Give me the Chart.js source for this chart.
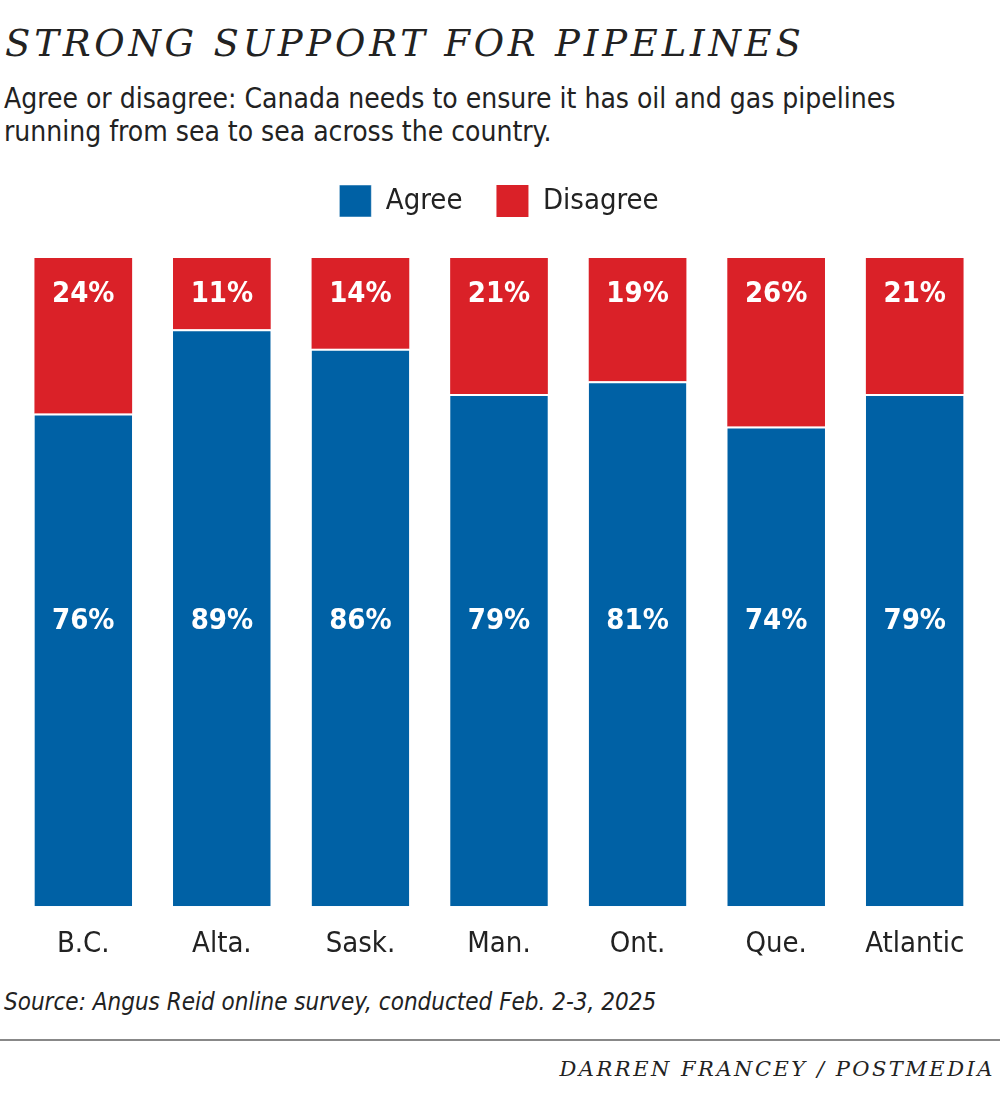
<!DOCTYPE html>
<html>
<head>
<meta charset="utf-8">
<script src="https://cdn.jsdelivr.net/npm/chart.js@4"></script>
<style>
  body { margin: 0; background: #fff; width: 1000px; height: 1111px; position: relative; overflow: hidden; }
  .title { position: absolute; left: 5px; top: 22px; font-family: "DejaVu Serif", serif; font-style: italic; font-size: 37px; letter-spacing: 3.8px; color: #222; white-space: nowrap; }
  .sub { position: absolute; left: 4px; top: 82px; font-family: "DejaVu Sans Condensed", sans-serif; font-size: 28px; line-height: 33px; color: #222; }
  .src { position: absolute; left: 4px; top: 988px; font-family: "DejaVu Sans Condensed", sans-serif; font-style: italic; font-size: 24px; color: #222; }
  .rule { position: absolute; left: 0; top: 1039px; width: 1000px; height: 2px; background: #888; }
  .credit { position: absolute; right: 5px; top: 1057px; font-family: "DejaVu Serif", serif; font-style: italic; font-size: 21px; letter-spacing: 2.5px; color: #222; }
  #wrap { position: absolute; left: 0; top: 151px; width: 1000px; height: 824px; }
</style>
</head>
<body>
<div class="title">STRONG SUPPORT FOR PIPELINES</div>
<div class="sub">Agree or disagree: Canada needs to ensure it has oil and gas pipelines<br>running from sea to sea across the country.</div>
<div id="wrap"><canvas id="myChart"></canvas></div>
<div class="src">Source: Angus Reid online survey, conducted Feb. 2-3, 2025</div>
<div class="rule"></div>
<div class="credit">DARREN FRANCEY / POSTMEDIA</div>
<script>
let regions = ["B.C.", "Alta.", "Sask.", "Man.", "Ont.", "Que.", "Atlantic"];
let agree = [76, 89, 86, 79, 81, 74, 79];
let disagree = [24, 11, 14, 21, 19, 26, 21];

let condensed = '"DejaVu Sans Condensed", sans-serif';

// labels sit at fixed heights: agree around 44 on the scale, disagree near the top
let labelPlugin = {
  id: "barLabels",
  afterDatasetsDraw(chart) {
    let ctx = chart.ctx;
    let y = chart.scales.y;
    ctx.save();
    ctx.fillStyle = "#fff";
    ctx.font = "bold 29px " + condensed;
    ctx.textAlign = "center";
    ctx.textBaseline = "middle";
    chart.getDatasetMeta(0).data.forEach((bar, i) => {
      ctx.fillText(agree[i] + "%", bar.x, y.getPixelForValue(44));
    });
    chart.getDatasetMeta(1).data.forEach((bar, i) => {
      ctx.fillText(disagree[i] + "%", bar.x, chart.chartArea.top + 36);
    });
    ctx.restore();
  },
};

// extra room under the legend
let legendGap = {
  id: "legendGap",
  beforeInit(chart) {
    let fit = chart.legend.fit;
    chart.legend.fit = function () {
      fit.bind(chart.legend)();
      this.height += 31;
    };
  },
};

let barChart = new Chart(document.getElementById("myChart"), {
  type: "bar",
  data: {
    labels: regions,
    datasets: [
      {
        label: "Agree",
        data: agree,
        backgroundColor: "#0061a5",
        borderColor: "#ffffff",
        borderWidth: { top: 2, left: 0, right: 0, bottom: 0 },
        borderSkipped: false,
        categoryPercentage: 1,
        barPercentage: 0.705,
      },
      {
        label: "Disagree",
        data: disagree,
        backgroundColor: "#da2128",
        borderWidth: 0,
        categoryPercentage: 1,
        barPercentage: 0.705,
      },
    ],
  },
  options: {
    responsive: true,
    maintainAspectRatio: false,
    animation: false,
    layout: { padding: { left: 14, right: 16, top: 0, bottom: 0 } },
    plugins: {
      tooltip: { enabled: false },
      legend: {
        position: "top",
        labels: {
          boxWidth: 32,
          boxHeight: 32,
          padding: 34,
          color: "#222",
          font: { family: condensed, size: 29 },
        },
      },
    },
    scales: {
      x: {
        stacked: true,
        grid: { display: false },
        border: { display: false },
        ticks: { color: "#222", font: { family: condensed, size: 29 }, padding: 13 },
      },
      y: {
        stacked: true,
        display: false,
        min: 0,
        max: 100,
      },
    },
  },
  plugins: [labelPlugin, legendGap],
});
</script>
</body>
</html>
